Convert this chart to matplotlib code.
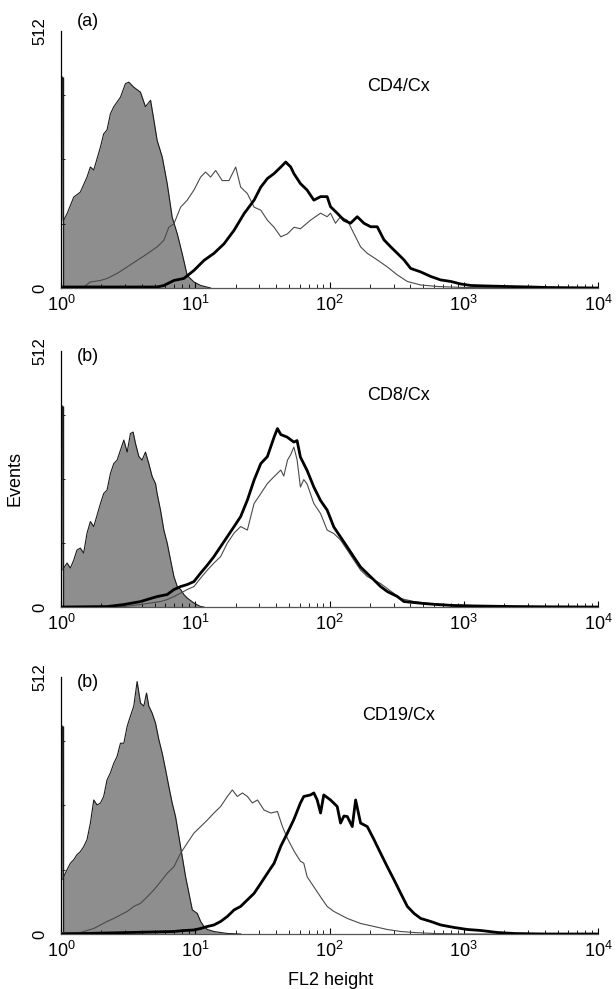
import numpy as np
import matplotlib
matplotlib.use("Agg")
import matplotlib.pyplot as plt
from matplotlib.ticker import LogLocator, FixedLocator

plt.rcParams['font.family'] = ['Liberation Sans', 'DejaVu Sans']

# x values are stored as log10(FL2 height), y as event counts read off the picture
# panel (a) CD4/Cx
a_gray_log = [0.012, 0.016, 0.020, 0.045, 0.095, 0.144, 0.194, 0.219, 0.244, 0.294, 0.318, 0.343,
              0.368, 0.393, 0.443, 0.480, 0.505, 0.542, 0.592, 0.629, 0.667, 0.692, 0.716, 0.754,
              0.791, 0.828, 0.866, 0.903, 0.940, 0.990, 1.040, 1.114]
a_gray_n = [420, 135, 135, 148, 181, 191, 221, 241, 235, 281, 307, 315,
            347, 361, 380, 407, 410, 400, 390, 361, 374, 334, 294, 261,
            208, 141, 108, 68, 25, 12, 5, 0]
a_thin_log = [0.0, 0.169, 0.219, 0.294, 0.343, 0.418, 0.493, 0.567, 0.642, 0.716, 0.766, 0.803,
              0.841, 0.891, 0.940, 0.990, 1.040, 1.077, 1.114, 1.152, 1.201, 1.251, 1.301, 1.338,
              1.388, 1.438, 1.488, 1.537, 1.587, 1.637, 1.687, 1.736, 1.783, 1.858, 1.933, 1.982,
              2.007, 2.044, 2.082, 2.132, 2.169, 2.231, 2.281, 2.355, 2.430, 2.505, 2.579, 2.679,
              2.803, 3.002, 3.5, 4.0]
a_thin_n = [2, 2, 12, 15, 19, 29, 42, 55, 68, 82, 95, 121,
            128, 161, 175, 195, 221, 231, 221, 234, 214, 214, 241, 201,
            188, 161, 155, 135, 121, 102, 108, 121, 118, 135, 149, 142,
            149, 129, 142, 135, 115, 82, 69, 56, 42, 26, 13, 6,
            3, 1, 0, 0]
a_thick_log = [0.0, 0.716, 0.766, 0.841, 0.915, 0.990, 1.065, 1.139, 1.214, 1.289, 1.363, 1.438,
               1.488, 1.537, 1.587, 1.637, 1.674, 1.684, 1.711, 1.734, 1.783, 1.833, 1.883, 1.933,
               1.982, 2.007, 2.057, 2.107, 2.156, 2.206, 2.256, 2.306, 2.355, 2.405, 2.455, 2.505,
               2.554, 2.604, 2.679, 2.753, 2.828, 2.903, 2.977, 3.052, 3.176, 3.326, 3.500, 3.624, 4.0]
a_thick_n = [2, 2, 5, 15, 19, 35, 55, 69, 88, 115, 148, 175,
             201, 218, 228, 241, 251, 248, 241, 228, 208, 195, 175, 182,
             182, 162, 149, 135, 129, 142, 129, 122, 122, 96, 82, 69,
             56, 39, 32, 23, 16, 13, 8, 5, 4, 3, 2, 1, 0]

# panel (b) CD8/Cx
b_gray_log = [0.012, 0.016, 0.020, 0.045, 0.070, 0.095, 0.119, 0.144, 0.169, 0.194, 0.219, 0.244,
              0.269, 0.294, 0.318, 0.343, 0.368, 0.393, 0.418, 0.443, 0.468, 0.493, 0.517, 0.537,
              0.555, 0.580, 0.604, 0.629, 0.654, 0.679, 0.704, 0.716, 0.741, 0.766, 0.791, 0.816,
              0.841, 0.866, 0.891, 0.915, 0.940, 0.990, 1.040, 1.065]
b_gray_n = [402, 74, 78, 88, 78, 94, 114, 118, 108, 148, 171, 161,
            184, 207, 227, 234, 267, 287, 294, 314, 334, 310, 347, 350,
            327, 301, 294, 310, 287, 261, 247, 227, 194, 154, 128, 94,
            61, 41, 35, 25, 18, 8, 1, 0]
b_thin_log = [0.0, 0.468, 0.592, 0.667, 0.741, 0.791, 0.841, 0.891, 0.940, 0.990, 1.040, 1.090,
              1.139, 1.189, 1.239, 1.289, 1.338, 1.388, 1.413, 1.438, 1.488, 1.537, 1.587, 1.637,
              1.659, 1.687, 1.711, 1.734, 1.758, 1.783, 1.808, 1.833, 1.883, 1.933, 1.982, 2.032,
              2.082, 2.132, 2.181, 2.231, 2.281, 2.331, 2.380, 2.430, 2.480, 2.530, 2.629, 2.753,
              2.878, 3.127, 4.0]
b_thin_n = [0, 1, 5, 8, 11, 15, 21, 28, 35, 41, 58, 74,
            88, 101, 128, 148, 161, 154, 181, 207, 227, 247, 261, 274,
            262, 294, 305, 320, 295, 240, 255, 246, 207, 187, 154, 147,
            134, 114, 94, 74, 61, 54, 47, 37, 27, 17, 11, 7,
            5, 2, 0]
b_thick_log = [0.0, 0.343, 0.468, 0.592, 0.716, 0.791, 0.841, 0.891, 0.940, 0.990, 1.040, 1.090,
               1.139, 1.189, 1.239, 1.289, 1.338, 1.388, 1.438, 1.488, 1.537, 1.587, 1.612, 1.637,
               1.684, 1.734, 1.758, 1.783, 1.833, 1.883, 1.933, 1.982, 2.032, 2.082, 2.132, 2.181,
               2.231, 2.281, 2.331, 2.380, 2.430, 2.505, 2.554, 2.629, 2.704, 2.803, 2.928, 3.127,
               3.375, 3.624, 4.0]
b_thick_n = [0, 1, 5, 11, 21, 25, 35, 41, 45, 51, 68, 84,
             101, 121, 141, 161, 181, 214, 254, 287, 301, 340, 357, 345,
             340, 330, 333, 300, 273, 240, 213, 194, 160, 140, 120, 100,
             80, 67, 54, 41, 31, 21, 11, 9, 7, 5, 3, 2,
             1, 0.5, 0]

# panel (c) CD19/Cx
c_gray_log = [0.012, 0.016, 0.020, 0.045, 0.070, 0.095, 0.119, 0.144, 0.169, 0.194, 0.219, 0.244,
              0.269, 0.294, 0.318, 0.343, 0.368, 0.393, 0.418, 0.443, 0.468, 0.493, 0.517, 0.542,
              0.567, 0.592, 0.617, 0.637, 0.654, 0.679, 0.704, 0.729, 0.754, 0.779, 0.803, 0.828,
              0.853, 0.878, 0.903, 0.928, 0.953, 0.978, 1.015, 1.040, 1.065, 1.090, 1.139, 1.239, 1.338]
c_gray_n = [414, 108, 114, 128, 141, 148, 158, 164, 174, 188, 221, 267,
            257, 261, 274, 307, 321, 340, 354, 380, 380, 414, 434, 454,
            503, 460, 454, 480, 454, 440, 420, 387, 360, 327, 294, 261,
            234, 194, 154, 114, 81, 48, 41, 25, 15, 9, 5, 1, 0]
c_thin_log = [0.0, 0.144, 0.194, 0.244, 0.294, 0.343, 0.393, 0.443, 0.493, 0.542, 0.592, 0.642,
              0.692, 0.741, 0.791, 0.841, 0.891, 0.940, 0.990, 1.040, 1.090, 1.139, 1.189, 1.239,
              1.276, 1.313, 1.351, 1.388, 1.425, 1.463, 1.512, 1.562, 1.612, 1.649, 1.687, 1.736,
              1.783, 1.808, 1.833, 1.883, 1.933, 1.982, 2.032, 2.082, 2.132, 2.231, 2.331, 2.430,
              2.530, 2.629, 2.778, 3.0, 4.0]
c_thin_n = [3, 3, 7, 11, 18, 25, 31, 38, 45, 55, 61, 74,
            88, 104, 121, 134, 161, 181, 201, 214, 227, 241, 254, 274,
            287, 274, 281, 274, 261, 267, 247, 241, 244, 214, 190, 165,
            145, 141, 114, 94, 74, 55, 45, 38, 31, 21, 15, 9,
            5, 3, 1, 0, 0]
c_thick_log = [0.0, 0.841, 0.915, 0.990, 1.040, 1.090, 1.139, 1.189, 1.239, 1.289, 1.338, 1.388,
               1.438, 1.488, 1.537, 1.587, 1.637, 1.684, 1.734, 1.783, 1.808, 1.858, 1.883, 1.908,
               1.933, 1.957, 2.007, 2.057, 2.082, 2.107, 2.132, 2.169, 2.194, 2.231, 2.281, 2.331,
               2.380, 2.430, 2.480, 2.530, 2.579, 2.629, 2.679, 2.753, 2.828, 2.928, 3.027, 3.127,
               3.251, 3.375, 3.6, 4.0]
c_thick_n = [0, 5, 7, 8, 11, 15, 18, 25, 35, 48, 55, 68,
             81, 101, 121, 141, 175, 200, 228, 261, 274, 277, 281, 267,
             241, 277, 267, 254, 221, 235, 234, 214, 267, 221, 214, 188,
             161, 134, 108, 81, 55, 41, 31, 25, 18, 13, 9, 7,
             3, 1, 0, 0]

panel_tags = ['(a)', '(b)', '(b)']
panel_names = ['CD4/Cx', 'CD8/Cx', 'CD19/Cx']
y_max = 512

panels = [
    (a_gray_log, a_gray_n, a_thin_log, a_thin_n, a_thick_log, a_thick_n),
    (b_gray_log, b_gray_n, b_thin_log, b_thin_n, b_thick_log, b_thick_n),
    (c_gray_log, c_gray_n, c_thin_log, c_thin_n, c_thick_log, c_thick_n),
]

fig = plt.figure(figsize=(6.16, 9.89), dpi=100)
boxes = [[0.099, 0.7088, 0.872, 0.2599],
         [0.099, 0.3862, 0.872, 0.2588],
         [0.099, 0.0556, 0.872, 0.2599]]
tag_y = [1.035, 0.98, 0.98]
name_y = [0.782, 0.828, 0.852]

for i, (gl, gn, tl, tn, kl, kn) in enumerate(panels):
    ax = fig.add_axes(boxes[i])
    gx = 10 ** np.array(gl)
    # first channel drawn as the tall spike at the left edge
    ax.vlines(gx[0], 0, gn[0], color='#1a1a1a', lw=1.0, zorder=2)
    ax.fill_between(gx, gn, 0, color='#8e8e8e', lw=0, zorder=1)
    ax.plot(gx, gn, color='#1a1a1a', lw=0.8, zorder=2)
    ax.plot(10 ** np.array(tl), tn, color='#4a4a4a', lw=0.8, zorder=3)
    ax.plot(10 ** np.array(kl), kn, color='black', lw=2.0, zorder=4)

    ax.set_xscale('log')
    ax.set_xlim(1, 1e4)
    ax.set_ylim(0, y_max)
    ax.spines['top'].set_visible(False)
    ax.spines['right'].set_visible(False)
    ax.spines['left'].set_linewidth(0.9)
    ax.spines['bottom'].set_linewidth(0.9)
    ax.spines['bottom'].set_color('#555555')

    ax.xaxis.set_major_locator(LogLocator(base=10, numticks=10))
    ax.xaxis.set_minor_locator(LogLocator(base=10, subs=np.arange(2, 10), numticks=20))
    ax.set_yticks([0, y_max])
    ax.yaxis.set_minor_locator(FixedLocator([128, 256, 384]))
    ax.tick_params(axis='x', which='major', direction='in', length=4, width=0.8,
                   labelsize=13, pad=5)
    ax.tick_params(axis='x', which='minor', direction='in', length=3, width=0.6)
    ax.tick_params(axis='y', which='major', direction='in', length=0, labelsize=12,
                   labelrotation=90, pad=10)
    ax.tick_params(axis='y', which='minor', direction='in', length=3, width=0.6)
    for lab in ax.get_yticklabels():
        lab.set_va('center')

    ax.text(0.05, tag_y[i], panel_tags[i], transform=ax.transAxes, fontsize=13,
            ha='center', va='center')
    ax.text(0.628, name_y[i], panel_names[i], transform=ax.transAxes, fontsize=13,
            ha='center', va='center')

fig.text(0.024, 0.5157, 'Events', rotation=90, fontsize=13, ha='center', va='center')
fig.text(0.536, 0.009, 'FL2 height', fontsize=13, ha='center', va='center')

fig.savefig('out.png', dpi=100)
